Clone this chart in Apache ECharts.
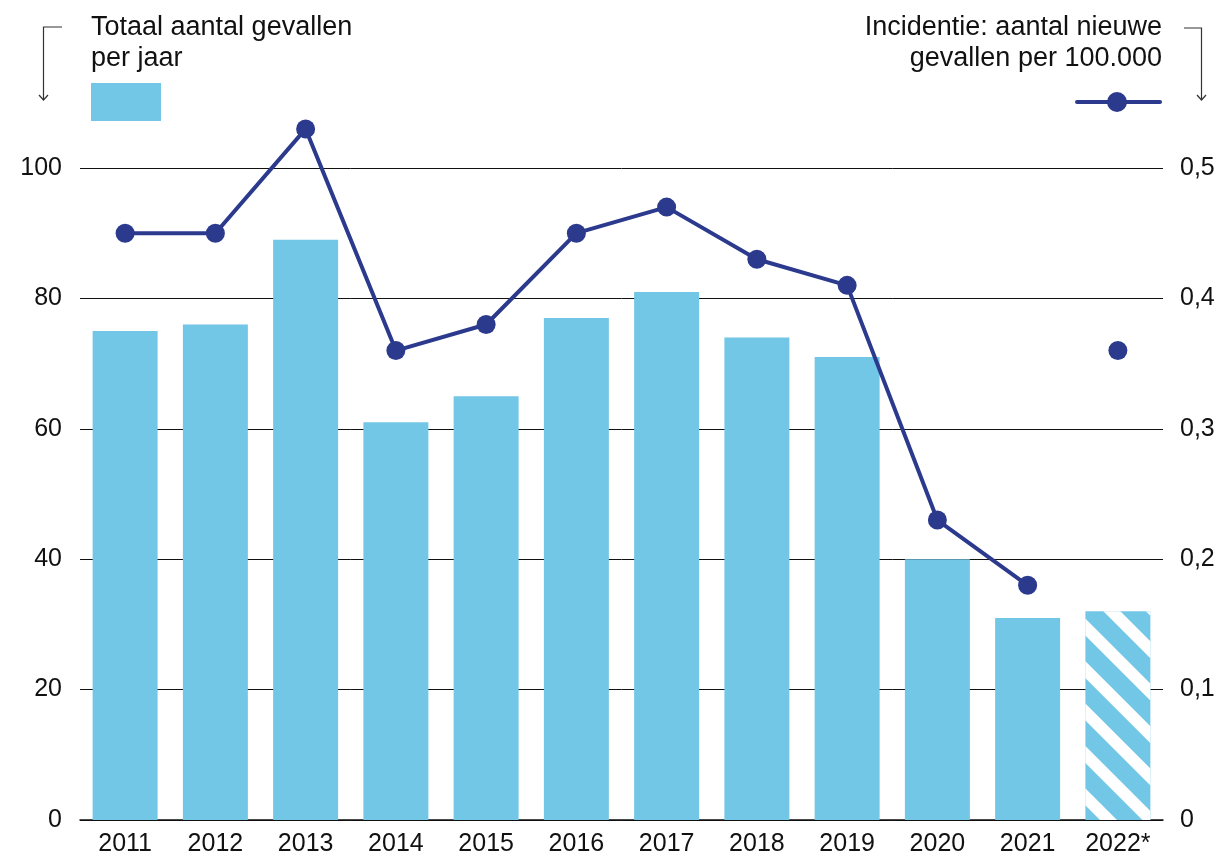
<!DOCTYPE html>
<html><head><meta charset="utf-8">
<script src="https://cdn.jsdelivr.net/npm/echarts@6/dist/echarts.min.js"></script>
<style>html,body{margin:0;padding:0;background:#fff}#c{width:1223px;height:857px}</style>
</head><body><div id="c"></div>
<script>
var categories = ['2011','2012','2013','2014','2015','2016','2017','2018','2019','2020','2021','2022*'];
var totalCases = [75,76,89,61,65,77,81,74,71,40,31,32];
var incidence = [0.45,0.45,0.53,0.36,0.38,0.45,0.47,0.43,0.41,0.23,0.18,null];
var incidenceProvisional = [null,null,null,null,null,null,null,null,null,null,null,0.36];
var leftTicks = [0,20,40,60,80,100];
var rightTicks = ['0','0,1','0,2','0,3','0,4','0,5'];

var BAR = '#72c6e6', LINE = '#2c3a8e', FONT = 'Liberation Sans, Arial, sans-serif';
var chart = echarts.init(document.getElementById('c'));
var barData = totalCases.map(function(v, i){
  if (i === totalCases.length - 1) {
    return {value: v, itemStyle: {color: BAR, decal: {symbol: 'rect', color: '#fff', dashArrayX: [1, 0], dashArrayY: [12, 18], rotation: Math.PI/4, symbolSize: 1}}};
  }
  return v;
});
chart.setOption({
  animation: false,
  grid: {left: 80, right: 60, top: 168, bottom: 36, containLabel: false},
  xAxis: {type: 'category', data: categories,
    axisLine: {lineStyle: {color: '#111', width: 1.5}}, axisTick: {show: false},
    axisLabel: {color: '#111', fontSize: 25, fontFamily: FONT, margin: 12}},
  yAxis: [
    {type: 'value', min: 0, max: 100, interval: 20,
      axisLine: {show: false}, axisTick: {show: false},
      splitLine: {lineStyle: {color: '#111', width: 1}},
      axisLabel: {color: '#111', fontSize: 25, fontFamily: FONT, margin: 18,
        formatter: function(v){ return leftTicks.indexOf(v) >= 0 ? String(v) : ''; }}},
    {type: 'value', min: 0, max: 0.5, interval: 0.1, position: 'right',
      axisLine: {show: false}, axisTick: {show: false}, splitLine: {show: false},
      axisLabel: {color: '#111', fontSize: 25, fontFamily: FONT, margin: 17,
        formatter: function(v){ return rightTicks[Math.round(v*10)]; }}}
  ],
  series: [
    {type: 'bar', data: barData, barCategoryGap: '28%', itemStyle: {color: BAR}, z: 1},
    {type: 'line', yAxisIndex: 1, data: incidence, clip: false, connectNulls: false,
      symbol: 'circle', symbolSize: 19, lineStyle: {color: LINE, width: 4},
      itemStyle: {color: LINE}, z: 3},
    {type: 'line', yAxisIndex: 1, data: incidenceProvisional, clip: false,
      symbol: 'circle', symbolSize: 19, lineStyle: {width: 0}, showSymbol: true,
      itemStyle: {color: LINE}, z: 3}
  ],
  graphic: [
    {type: 'text', left: 91, top: 14, style: {text: 'Totaal aantal gevallen', font: '27px ' + FONT, fill: '#111'}},
    {type: 'text', left: 91, top: 45, style: {text: 'per jaar', font: '27px ' + FONT, fill: '#111'}},
    {type: 'rect', shape: {x: 91, y: 83, width: 70, height: 38}, style: {fill: BAR}},
    {type: 'text', right: 61, top: 14, style: {text: 'Incidentie: aantal nieuwe', font: '27px ' + FONT, fill: '#111'}},
    {type: 'text', right: 61, top: 45, style: {text: 'gevallen per 100.000', font: '27px ' + FONT, fill: '#111'}},
    {type: 'line', shape: {x1: 1077, y1: 102, x2: 1160, y2: 102}, style: {stroke: LINE, lineWidth: 4, lineCap: 'round'}},
    {type: 'circle', shape: {cx: 1117, cy: 102, r: 10}, style: {fill: LINE}},
    {type: 'polyline', shape: {points: [[62,27],[43.5,27],[43.5,100]]}, style: {stroke: '#333', lineWidth: 1.2, fill: null}},
    {type: 'polyline', shape: {points: [[39,95],[43.5,100],[48,95]]}, style: {stroke: '#333', lineWidth: 1.2, fill: null}},
    {type: 'polyline', shape: {points: [[1184,28],[1201.5,28],[1201.5,100]]}, style: {stroke: '#333', lineWidth: 1.2, fill: null}},
    {type: 'polyline', shape: {points: [[1197,95],[1201.5,100],[1206,95]]}, style: {stroke: '#333', lineWidth: 1.2, fill: null}}
  ]
});
</script></body></html>
